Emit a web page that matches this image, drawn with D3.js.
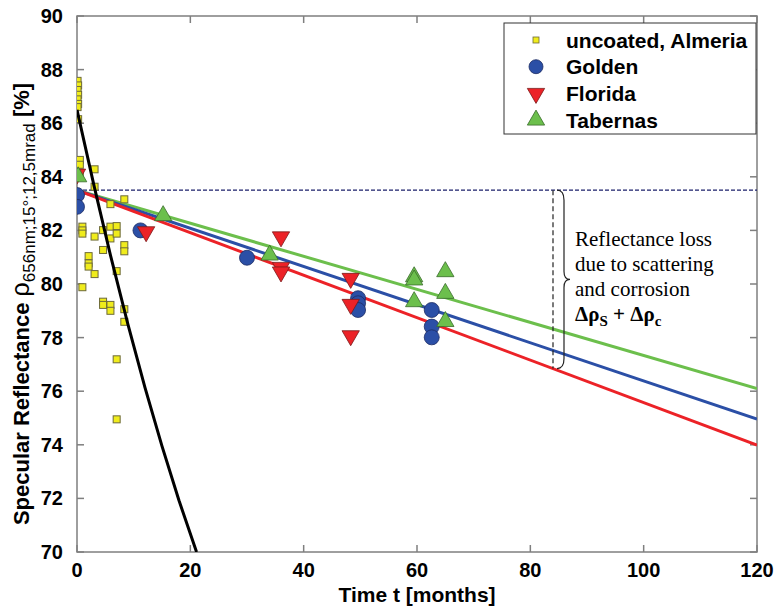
<!DOCTYPE html>
<html>
<head>
<meta charset="UTF-8">
<title>Specular reflectance vs time</title>
<script src="https://d3js.org/d3.v7.min.js"></script>
<style>
  body { margin: 0; background: #fff; }
  svg { display: block; }
</style>
</head>
<body>
<script>
// uncoated, Almeria (yellow squares)
const almeriaT = [0.1, 0.2, 0.1, 0.2, 0.1, 0.2, 0.1, 0.2,
  0.5, 0.5, 0.5, 3.1, 3.1,
  0.95, 0.95, 0.95, 2.05, 2.05, 2.05, 3.1, 0.95, 3.1,
  4.6, 4.6, 4.6, 4.6, 5.9, 7.0, 5.9, 7.0, 5.9, 5.9, 7.0, 5.9,
  8.35, 8.35, 8.35, 8.35, 8.35, 7.0, 7.0];
const almeriaR = [87.58, 87.41, 87.24, 87.06, 86.89, 86.72, 86.6, 86.15,
  84.63, 84.45, 84.15, 84.28, 83.63,
  82.14, 82.0, 81.88, 81.04, 80.77, 80.65, 80.37, 79.88, 81.77,
  82.01, 81.27, 79.34, 79.22, 82.14, 82.16, 81.7, 81.88, 79.22, 79.0, 80.48, 82.98,
  81.45, 81.22, 83.16, 79.06, 78.59, 77.19, 74.95];

// Golden (blue circles)
const goldenT = [0, 0, 11.2, 30, 49.6, 49.6, 49.6, 62.6, 62.6, 62.6];
const goldenR = [83.32, 82.88, 82.0, 80.98, 79.47, 79.28, 79.03, 79.03, 78.41, 78.01];

// Florida (red down triangles)
const floridaT = [0, 12.2, 36, 36, 36, 48.3, 48.3, 48.3];
const floridaR = [84.1, 81.95, 81.76, 80.62, 80.45, 80.21, 79.24, 78.07];

// Tabernas (green up triangles)
const tabernasT = [0.2, 15.2, 34, 59.5, 59.5, 59.5, 65, 65, 65];
const tabernasR = [84.0, 82.55, 81.08, 80.27, 80.15, 79.34, 80.46, 79.65, 78.6];

// fitted degradation lines (start / end at t = 0 and 120)
const fitT = [0, 120];
const fitGolden = [83.5, 74.96];
const fitFlorida = [83.5, 73.99];
const fitTabernas = [83.5, 76.1];

// uncoated fit curve
const uncoatedT = [0, 3, 6, 9, 12, 15, 18, 21.1];
const uncoatedR = [86.5, 83.67, 80.99, 78.48, 76.13, 73.95, 71.92, 70.0];

const initialLevel = 83.5;
const lossAt = 84;

const xTicks = [0, 20, 40, 60, 80, 100, 120];
const yTicks = [70, 72, 74, 76, 78, 80, 82, 84, 86, 88, 90];

const width = 776, height = 606;
const margin = { left: 77, right: 19, top: 16, bottom: 54 };

const svg = d3.select("body").append("svg")
  .attr("width", width).attr("height", height);

const x = d3.scaleLinear().domain([0, 120]).range([margin.left, width - margin.right]);
const y = d3.scaleLinear().domain([70, 90]).range([height - margin.bottom, margin.top]);

const col = {
  yellow: "#f0ec1c", golden: "#2b4fa6", florida: "#ec2227", tabernas: "#6cbf4c"
};

const zip = (a, b) => a.map((t, i) => [t, b[i]]);
const line = d3.line().x(d => x(d[0])).y(d => y(d[1]));

// clip
svg.append("clipPath").attr("id", "plot")
  .append("rect")
  .attr("x", x(0)).attr("y", y(90))
  .attr("width", x(120) - x(0)).attr("height", y(70) - y(90));

// frame + inward ticks
const frame = svg.append("g").attr("stroke", "#7f7f7f").attr("stroke-width", 1.5);
frame.append("rect")
  .attr("x", x(0)).attr("y", y(90))
  .attr("width", x(120) - x(0)).attr("height", y(70) - y(90))
  .attr("fill", "none");
xTicks.forEach(t => {
  frame.append("line").attr("x1", x(t)).attr("x2", x(t)).attr("y1", y(70)).attr("y2", y(70) - 7);
  frame.append("line").attr("x1", x(t)).attr("x2", x(t)).attr("y1", y(90)).attr("y2", y(90) + 7);
});
yTicks.forEach(v => {
  frame.append("line").attr("y1", y(v)).attr("y2", y(v)).attr("x1", x(0)).attr("x2", x(0) + 7);
  frame.append("line").attr("y1", y(v)).attr("y2", y(v)).attr("x1", x(120)).attr("x2", x(120) - 7);
});

// tick labels
const tickFont = "'Liberation Sans', Arial, sans-serif";
svg.append("g").selectAll("text").data(xTicks).join("text")
  .attr("x", d => x(d)).attr("y", y(70) + 25)
  .attr("text-anchor", "middle")
  .style("font", `bold 20px ${tickFont}`)
  .text(d => d);
svg.append("g").selectAll("text").data(yTicks).join("text")
  .attr("x", x(0) - 14).attr("y", d => y(d) + 7)
  .attr("text-anchor", "end")
  .style("font", `bold 20px ${tickFont}`)
  .text(d => d);

// axis titles
svg.append("text")
  .attr("x", x(60)).attr("y", 602)
  .attr("text-anchor", "middle")
  .style("font", `bold 21px ${tickFont}`)
  .text("Time t [months]");

const yl = svg.append("text")
  .attr("transform", `translate(29,${y(80) + 20}) rotate(-90)`)
  .attr("text-anchor", "middle")
  .style("font", `bold 22px ${tickFont}`);
yl.append("tspan").text("Specular Reflectance ");
yl.append("tspan").style("font-weight", "normal").style("font-size", "25px").text("ρ");
yl.append("tspan").attr("dy", 6).style("font-weight", "normal").style("font-size", "17px")
  .text("656nm;15°;12,5mrad");
yl.append("tspan").attr("dy", -6).text(" [%]");

const plot = svg.append("g").attr("clip-path", "url(#plot)");

// initial level dashed line
plot.append("line")
  .attr("x1", x(0)).attr("x2", x(120))
  .attr("y1", y(initialLevel)).attr("y2", y(initialLevel))
  .attr("stroke", "#1b1f6b").attr("stroke-width", 1.3)
  .attr("stroke-dasharray", "4,2");

// fitted lines
[[fitTabernas, col.tabernas], [fitGolden, col.golden], [fitFlorida, col.florida]].forEach(([v, c]) => {
  plot.append("path")
    .attr("d", line(zip(fitT, v)))
    .attr("fill", "none").attr("stroke", c).attr("stroke-width", 3);
});

// uncoated squares
plot.append("g").selectAll("rect").data(zip(almeriaT, almeriaR)).join("rect")
  .attr("x", d => x(d[0]) - 3.5).attr("y", d => y(d[1]) - 3.5)
  .attr("width", 7).attr("height", 7)
  .attr("fill", col.yellow).attr("stroke", "#6d6a3a").attr("stroke-width", 1);

// uncoated fit curve
plot.append("path")
  .attr("d", line(zip(uncoatedT, uncoatedR)))
  .attr("fill", "none").attr("stroke", "#000").attr("stroke-width", 3)
  .attr("stroke-linejoin", "round");

// markers
const tri = d3.symbol().type(d3.symbolTriangle).size(130);

plot.append("g").selectAll("circle").data(zip(goldenT, goldenR)).join("circle")
  .attr("cx", d => x(d[0])).attr("cy", d => y(d[1])).attr("r", 7.5)
  .attr("fill", col.golden).attr("stroke", "#1d2c63").attr("stroke-width", 0.8);

plot.append("g").selectAll("path").data(zip(floridaT, floridaR)).join("path")
  .attr("d", tri)
  .attr("transform", d => `translate(${x(d[0])},${y(d[1])}) rotate(180)`)
  .attr("fill", col.florida).attr("stroke", "#7a1a1a").attr("stroke-width", 0.8);

plot.append("g").selectAll("path").data(zip(tabernasT, tabernasR)).join("path")
  .attr("d", tri)
  .attr("transform", d => `translate(${x(d[0])},${y(d[1])})`)
  .attr("fill", col.tabernas).attr("stroke", "#386b2a").attr("stroke-width", 0.8);

// reflectance loss annotation
const redAt = fitFlorida[0] + (fitFlorida[1] - fitFlorida[0]) * lossAt / 120;
const bx = x(lossAt), yTop = y(initialLevel), yBot = y(redAt), yMid = (yTop + yBot) / 2;
svg.append("line")
  .attr("x1", bx).attr("x2", bx).attr("y1", yTop).attr("y2", yBot)
  .attr("stroke", "#222").attr("stroke-width", 1.2).attr("stroke-dasharray", "5,3");
const b0 = bx + 4, b1 = bx + 11, b2 = bx + 17;
svg.append("path")
  .attr("d", `M${b0},${yTop} Q${b1},${yTop} ${b1},${yTop + 10} L${b1},${yMid - 8} Q${b1},${yMid} ${b2},${yMid}` +
    ` Q${b1},${yMid} ${b1},${yMid + 8} L${b1},${yBot - 10} Q${b1},${yBot} ${b0},${yBot}`)
  .attr("fill", "none").attr("stroke", "#222").attr("stroke-width", 1.2);

const serif = "'Liberation Serif', 'Times New Roman', serif";
["Reflectance loss", "due to scattering", "and corrosion"].forEach((s, i) => {
  svg.append("text")
    .attr("x", 575).attr("y", 246 + i * 25)
    .style("font", `21px ${serif}`)
    .text(s);
});
const dl = svg.append("text").attr("x", 575).attr("y", 321)
  .style("font", `bold 21px ${serif}`);
dl.append("tspan").text("Δρ");
dl.append("tspan").attr("dy", 5).style("font-size", "15px").text("S");
dl.append("tspan").attr("dy", -5).text(" + Δρ");
dl.append("tspan").attr("dy", 5).style("font-size", "15px").text("c");

// legend
const lg = svg.append("g");
lg.append("rect")
  .attr("x", 504).attr("y", 23).attr("width", 252).attr("height", 111)
  .attr("fill", "#fff").attr("stroke", "#333").attr("stroke-width", 1);
const legendItems = ["uncoated, Almeria", "Golden", "Florida", "Tabernas"];
legendItems.forEach((name, i) => {
  const cy = 40 + i * 26.7, cx = 536;
  if (i === 0) {
    lg.append("rect").attr("x", cx - 3).attr("y", cy - 3).attr("width", 6).attr("height", 6)
      .attr("fill", col.yellow).attr("stroke", "#6d6a3a").attr("stroke-width", 0.8);
  } else if (i === 1) {
    lg.append("circle").attr("cx", cx).attr("cy", cy).attr("r", 7)
      .attr("fill", col.golden).attr("stroke", "#1d2c63").attr("stroke-width", 0.8);
  } else {
    lg.append("path").attr("d", tri)
      .attr("transform", `translate(${cx},${cy}) rotate(${i === 2 ? 180 : 0})`)
      .attr("fill", i === 2 ? col.florida : col.tabernas)
      .attr("stroke", i === 2 ? "#7a1a1a" : "#386b2a").attr("stroke-width", 0.8);
  }
  lg.append("text")
    .attr("x", 566).attr("y", cy + 7.5)
    .style("font", `bold 21px ${tickFont}`)
    .text(name);
});
</script>
</body>
</html>
